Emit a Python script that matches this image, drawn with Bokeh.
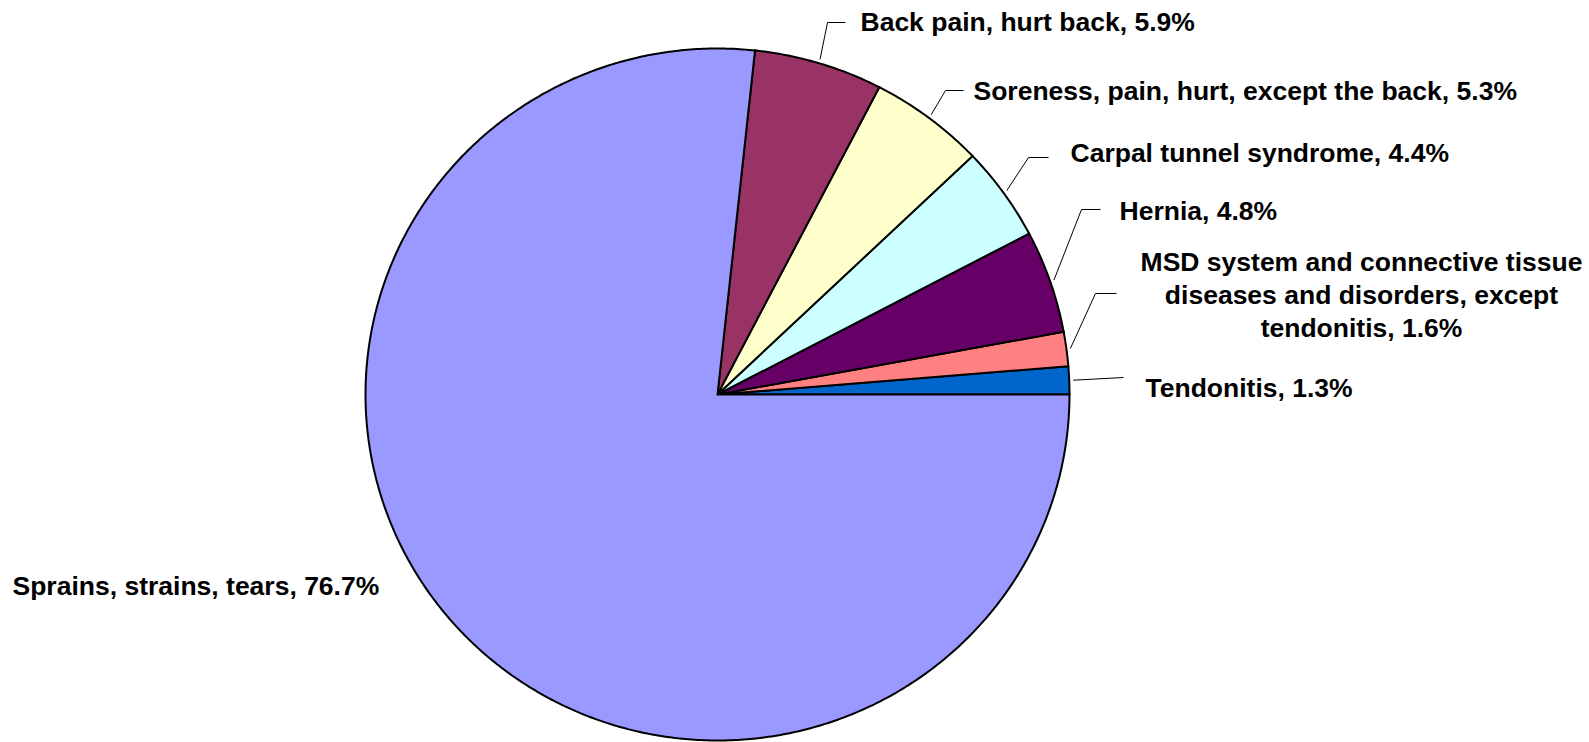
import math
import textwrap
import numpy as np
from bokeh.plotting import figure
from bokeh.models import Range1d, ColumnDataSource
from bokeh.core.properties import value
from bokeh.embed import file_html
from bokeh.resources import INLINE

# ---- data (counter-clockwise from 3 o'clock) ----
categories = [
    "Tendonitis",
    "MSD system and connective tissue diseases and disorders, except tendonitis",
    "Hernia",
    "Carpal tunnel syndrome",
    "Soreness, pain, hurt, except the back",
    "Back pain, hurt back",
    "Sprains, strains, tears",
]
percents = [1.3, 1.6, 4.8, 4.4, 5.3, 5.9, 76.7]
colors = ["#0066CC", "#FF8080", "#660066", "#CCFFFF", "#FFFFCC", "#993366", "#9999FF"]

# ---- layout (px coordinates; data y = -px y) ----
W, H = 1589, 742
CX, CY, RX, RY = 717, 394, 352, 346
FONT = "Liberation Sans"
FSIZE = "26.5px"

# label anchors: (x, cap-centre y, align) in px
label_pos = {
    0: (1145, 387, "left"),
    1: (1361, 261, "center"),
    2: (1119, 210, "left"),
    3: (1070, 152, "left"),
    4: (973, 90, "left"),
    5: (860, 21.5, "left"),
    6: (12, 585, "left"),
}
# leader elbows / ends (px); None = no leader
leader_pts = {
    0: [(1123, 377)],
    1: [(1095, 293), (1116, 293)],
    2: [(1081, 209), (1100, 209)],
    3: [(1028, 157), (1048, 157)],
    4: [(945, 90), (963, 90)],
    5: [(827, 22), (845, 22)],
    6: None,
}
LINE_H = 33

p = figure(width=W, height=H, output_backend="svg", toolbar_location=None,
           x_range=Range1d(0, W), y_range=Range1d(-H, 0),
           min_border=0, outline_line_color=None)
p.axis.visible = False
p.grid.visible = False
p.background_fill_color = "white"
p.border_fill_color = "white"

total = sum(percents)
starts, ends = [], []
acc = 0.0
for v in percents:
    starts.append(2 * math.pi * acc / total)
    acc += v
    ends.append(2 * math.pi * acc / total)

xs_all, ys_all = [], []
for a0, a1 in zip(starts, ends):
    n = max(4, int(math.degrees(a1 - a0) * 2))
    t = np.linspace(a0, a1, n)
    xs_all.append([CX] + list(CX + RX * np.cos(t)) + [CX])
    ys_all.append([-CY] + list(-CY + RY * np.sin(t)) + [-CY])

src = ColumnDataSource(dict(xs=xs_all, ys=ys_all, color=colors, cat=categories))
p.patches(xs="xs", ys="ys", fill_color="color", line_color="black",
          line_width=2, line_join="miter", source=src)

# labels and leaders
for i, (cat, v) in enumerate(zip(categories, percents)):
    label = f"{cat}, {v}%"
    x, cy, align = label_pos[i]
    lines = textwrap.wrap(label, 32) if align == "center" else [label]
    for k, ln in enumerate(lines):
        p.text(x=[x], y=[-(cy + k * LINE_H)], text=[ln], text_align=align,
               text_baseline="alphabetic", text_font=value(FONT),
               text_font_style="bold", text_font_size=value(FSIZE),
               text_color="black")
    pts = leader_pts[i]
    if pts:
        mid = (starts[i] + ends[i]) / 2
        sx = CX + (RX + 4) * math.cos(mid)
        sy = CY - (RY + 4) * math.sin(mid)
        xs = [sx] + [q[0] for q in pts]
        ys = [-sy] + [-q[1] for q in pts]
        p.line(xs, ys, line_color="black", line_width=1)

open("out.html", "w").write(file_html(p, INLINE))
